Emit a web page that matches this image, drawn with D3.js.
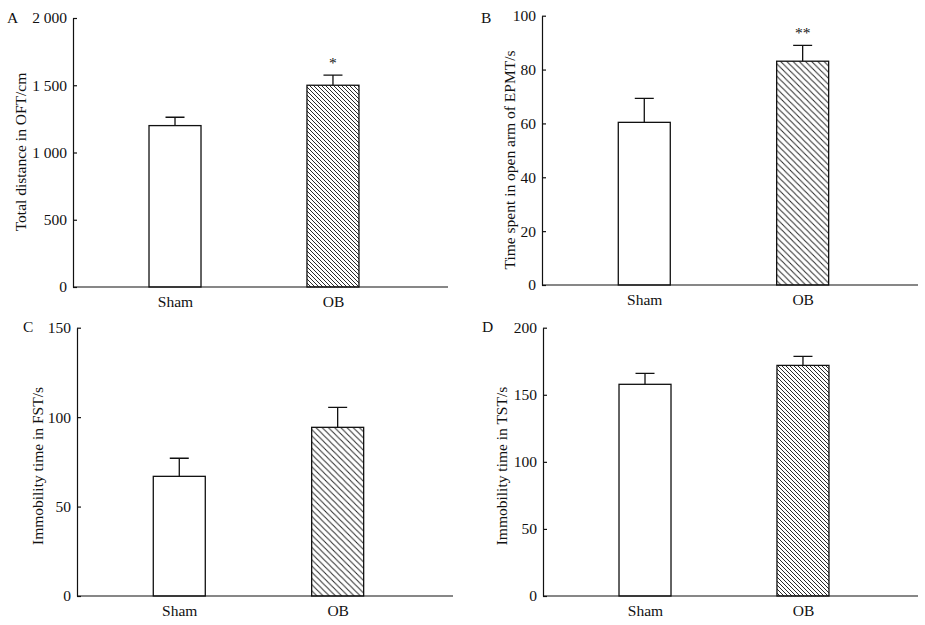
<!DOCTYPE html>
<html>
<head>
<meta charset="utf-8">
<script src="https://cdn.jsdelivr.net/npm/d3@7"></script>
<style>
  body { margin: 0; background: #fff; }
  text { font-family: "Liberation Serif", "Times New Roman", serif; fill: #111; }
</style>
</head>
<body>
<script>
// groups on the x axis
const categories = ["Sham", "OB"];

// A - open field test
const oftMean = [1200, 1500];
const oftSem = [62, 75];
const oftTicks = [0, 500, 1000, 1500, 2000];
const oftMarks = ["", "*"];

// B - elevated plus maze
const epmMean = [60.4, 83.1];
const epmSem = [8.9, 5.9];
const epmTicks = [0, 20, 40, 60, 80, 100];
const epmMarks = ["", "**"];

// C - forced swim test
const fstMean = [66.9, 94.3];
const fstSem = [10.1, 11.2];
const fstTicks = [0, 50, 100, 150];
const fstMarks = ["", ""];

// D - tail suspension test
const tstMean = [157.8, 171.9];
const tstSem = [8.2, 6.7];
const tstTicks = [0, 50, 100, 150, 200];
const tstMarks = ["", ""];

const panelLetters = ["A", "B", "C", "D"];
const yTitles = [
  "Total distance in OFT/cm",
  "Time spent in open arm of EPMT/s",
  "Immobility time in FST/s",
  "Immobility time in TST/s"
];

const svg = d3.select("body").append("svg")
  .attr("width", 925)
  .attr("height", 625);

// hatch patterns, dense for A/D and wider for B/C
const defs = svg.append("defs");
function hatch(id, w) {
  const p = defs.append("pattern")
    .attr("id", id)
    .attr("patternUnits", "userSpaceOnUse")
    .attr("width", w).attr("height", w);
  p.append("rect").attr("width", w).attr("height", w).attr("fill", "#fff");
  p.append("path")
    .attr("d", `M0,0L${w},${w}M${w - 1},-1L${w + 1},1M-1,${w - 1}L1,${w + 1}`)
    .attr("stroke", "#2a2a2a")
    .attr("stroke-width", 1);
}
hatch("hatchDense", 4);
hatch("hatchWide", 6.2);

const spaced = d3.formatLocale({decimal: ".", thousands: " ", grouping: [3], currency: ["", ""]}).format(",");

const panels = [
  {mean: oftMean, sem: oftSem, ticks: oftTicks, marks: oftMarks, max: 2000,
   x0: 73, x1: 448, y0: 287, y1: 18, fill: "url(#hatchDense)",
   letter: [7, 23], title: [20, 152]},
  {mean: epmMean, sem: epmSem, ticks: epmTicks, marks: epmMarks, max: 100,
   x0: 542, x1: 918, y0: 285, y1: 15.7, fill: "url(#hatchWide)",
   letter: [481, 23], title: [509, 160]},
  {mean: fstMean, sem: fstSem, ticks: fstTicks, marks: fstMarks, max: 150,
   x0: 77, x1: 453, y0: 596, y1: 327.7, fill: "url(#hatchWide)",
   letter: [23, 332], title: [37, 466]},
  {mean: tstMean, sem: tstSem, ticks: tstTicks, marks: tstMarks, max: 200,
   x0: 543, x1: 918, y0: 596, y1: 327.7, fill: "url(#hatchDense)",
   letter: [482, 332], title: [501, 466]}
];

const barW = 52;
const fs = "15.5px";

panels.forEach(function(p, i) {
  const g = svg.append("g");

  const x = d3.scalePoint().domain(categories)
    .range([p.x0, p.x1]).padding(0.687).align(0.47);
  const y = d3.scaleLinear().domain([0, p.max]).range([p.y0, p.y1]);

  const rows = categories.map((c, j) => ({cat: c, mean: p.mean[j], sem: p.sem[j], mark: p.marks[j]}));

  // bars
  g.selectAll(".bar")
    .data(rows)
    .enter()
    .append("rect")
    .attr("x", d => x(d.cat) - barW / 2)
    .attr("y", d => y(d.mean))
    .attr("width", barW)
    .attr("height", d => y(0) - y(d.mean))
    .attr("fill", (d, j) => j === 0 ? "#fff" : p.fill)
    .attr("stroke", "#111")
    .attr("stroke-width", 1.3);

  // error bars (upper only)
  g.selectAll(".err")
    .data(rows)
    .enter()
    .append("path")
    .attr("d", d => {
      const cx = x(d.cat), t = y(d.mean + d.sem);
      return `M${cx},${y(d.mean)}V${t}M${cx - 9.5},${t}H${cx + 9.5}`;
    })
    .attr("fill", "none")
    .attr("stroke", "#111")
    .attr("stroke-width", 1.3);

  // significance marks
  g.selectAll(".mark")
    .data(rows.filter(d => d.mark))
    .enter()
    .append("text")
    .attr("x", d => x(d.cat))
    .attr("y", d => y(d.mean + d.sem) - 7)
    .attr("text-anchor", "middle")
    .style("font-size", fs)
    .text(d => d.mark);

  // y axis, ticks pointing inward
  const yAxis = d3.axisLeft(y).tickValues(p.ticks).tickFormat(spaced)
    .tickSizeInner(-4).tickSizeOuter(0).tickPadding(6);
  const ya = g.append("g").attr("transform", `translate(${p.x0},0)`).call(yAxis);
  ya.selectAll("text").style("font-size", fs).style("font-family", "Liberation Serif").attr("fill", "#111");
  ya.selectAll("line, path").attr("stroke", "#111").attr("stroke-width", 1.2);

  // x axis line and group labels
  const xAxis = d3.axisBottom(x).tickSize(0).tickPadding(9);
  const xa = g.append("g").attr("transform", `translate(0,${p.y0})`).call(xAxis);
  xa.select(".domain").attr("d", `M${p.x0},0H${p.x1}`).attr("stroke", "#111").attr("stroke-width", 1.2);
  xa.selectAll("text").style("font-size", fs).style("font-family", "Liberation Serif").attr("fill", "#111");

  // panel letter
  g.append("text")
    .attr("x", p.letter[0])
    .attr("y", p.letter[1])
    .style("font-size", fs)
    .text(panelLetters[i]);

  // y title
  g.append("text")
    .attr("transform", `translate(${p.title[0]},${p.title[1]}) rotate(-90)`)
    .attr("text-anchor", "middle")
    .attr("dominant-baseline", "central")
    .style("font-size", fs)
    .text(yTitles[i]);
});
</script>
</body>
</html>
